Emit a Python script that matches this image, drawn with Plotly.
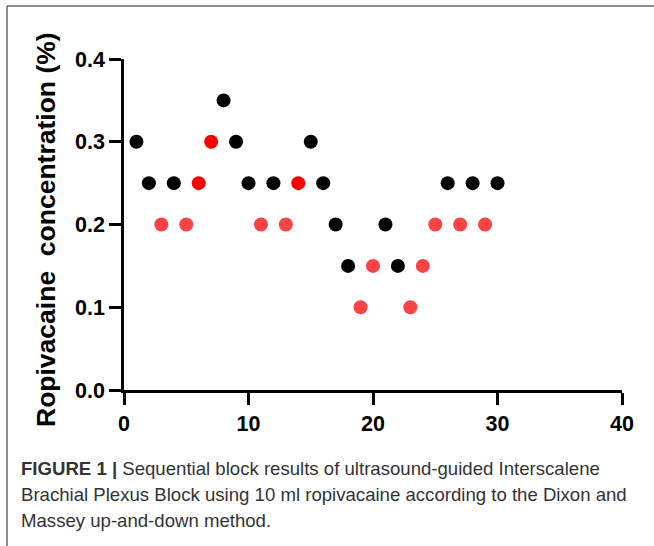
import plotly.graph_objects as go

# Data
trial = list(range(1, 31))
conc = [0.30, 0.25, 0.20, 0.25, 0.20, 0.25, 0.30, 0.35, 0.30, 0.25,
        0.20, 0.25, 0.20, 0.25, 0.30, 0.25, 0.20, 0.15, 0.10, 0.15,
        0.20, 0.15, 0.10, 0.15, 0.20, 0.25, 0.20, 0.25, 0.20, 0.25]
# k = black (effective), r = pure red, l = light red
group = ["k", "k", "l", "k", "l", "r", "r", "k", "k", "k",
         "l", "k", "l", "r", "k", "k", "k", "k", "l", "l",
         "k", "k", "l", "l", "l", "k", "l", "k", "l", "k"]
color_map = {"k": "#000000", "r": "#FF0000", "l": "#F94346"}

x_ticks = [0, 10, 20, 30, 40]
y_ticks = [0.0, 0.1, 0.2, 0.3, 0.4]

caption_lines = [
    "<b>FIGURE 1 |</b> Sequential block results of ultrasound-guided Interscalene",
    "Brachial Plexus Block using 10 ml ropivacaine according to the Dixon and",
    "Massey up-and-down method.",
]

fig = go.Figure()
fig.add_trace(go.Scatter(
    x=trial, y=conc, mode="markers",
    marker=dict(size=14, color=[color_map[g] for g in group], line=dict(width=0)),
    showlegend=False, cliponaxis=False,
))

W, H = 654, 546
L, R, T, B = 124, 32, 59, 156
pw, ph = W - L - R, H - T - B

def px(xp):
    return (xp - L) / pw

def py(yp):
    return (H - B - yp) / ph

tickfont = dict(family="Liberation Sans, Arial", size=21.5, color="#000", weight="bold")
annotations = [
    dict(text="Ropivacaine  concentration (%)", textangle=-90, xref="paper", yref="paper",
         x=px(46), y=py(230), showarrow=False, xanchor="center", yanchor="middle",
         font=dict(family="Liberation Sans, Arial", size=26.5, color="#000", weight="bold")),
]
for i, line in enumerate(caption_lines):
    annotations.append(dict(
        text=line, xref="paper", yref="paper", x=px(19), y=py(468 + 26 * i),
        xanchor="left", yanchor="middle", align="left", showarrow=False,
        font=dict(family="Liberation Sans, Arial", size=18.6, color="#333")))

fig.update_layout(
    width=W, height=H,
    margin=dict(l=L, r=R, t=T, b=B, autoexpand=False),
    paper_bgcolor="white", plot_bgcolor="white",
    xaxis=dict(range=[0, 40], tickvals=x_ticks, ticktext=[str(v) for v in x_ticks],
               showgrid=False, zeroline=False, showline=True, linecolor="#000", linewidth=2.5,
               ticks="outside", ticklen=12, tickwidth=2.5, tickcolor="#000", tickfont=tickfont),
    yaxis=dict(range=[0, 0.4], tickvals=y_ticks, ticktext=["%.1f" % v for v in y_ticks],
               showgrid=False, zeroline=False, showline=True, linecolor="#000", linewidth=2.5,
               ticks="outside", ticklen=12, tickwidth=2.5, tickcolor="#000", tickfont=tickfont),
    shapes=[
        dict(type="line", xref="paper", yref="paper", x0=px(7), x1=px(660), y0=py(6), y1=py(6),
             line=dict(color="#666", width=1.5)),
        dict(type="line", xref="paper", yref="paper", x0=px(7), x1=px(7), y0=py(6), y1=py(560),
             line=dict(color="#666", width=1.5)),
    ],
    annotations=annotations,
)

fig.write_html("out.html")
